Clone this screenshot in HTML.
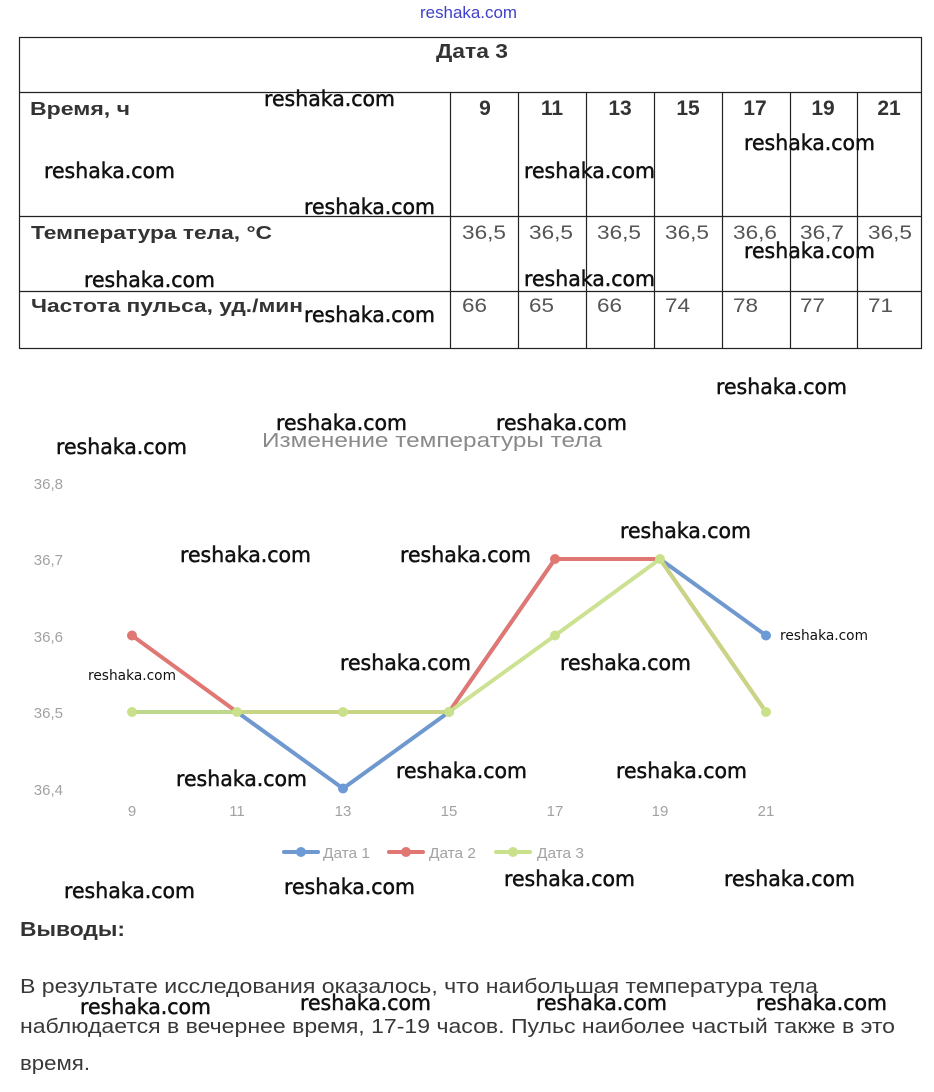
<!DOCTYPE html>
<html><head><meta charset="utf-8"><style>
html,body{margin:0;padding:0;background:#fff;}
svg{display:block;}
.wm{font-family:"DejaVu Sans","Liberation Sans",sans-serif;font-size:21px;fill:#111;stroke:#111;stroke-width:0.5;}
.wms{font-family:"DejaVu Sans","Liberation Sans",sans-serif;font-size:14px;fill:#111;}
.tb{font-family:"Liberation Sans",sans-serif;font-weight:bold;font-size:18px;fill:#333;}
.tv{font-family:"Liberation Sans",sans-serif;font-size:19px;fill:#555;}
.ax{font-family:"Liberation Sans",sans-serif;font-size:15px;fill:#a2a2a2;}
.pt{font-family:"Liberation Sans",sans-serif;font-size:20px;fill:#383838;}
</style></head><body>
<svg width="934" height="1092" viewBox="0 0 934 1092" xmlns="http://www.w3.org/2000/svg">
<rect width="934" height="1092" fill="#fff"/>
<text x="420" y="18" font-family="Liberation Sans, sans-serif" font-size="17" fill="#4040cc" textLength="97" lengthAdjust="spacingAndGlyphs">reshaka.com</text>

<g stroke="#222" stroke-width="1.2" fill="none">
<rect x="19.5" y="37.5" width="902" height="311"/>
<line x1="19" y1="92.5" x2="922" y2="92.5"/>
<line x1="19" y1="216.5" x2="922" y2="216.5"/>
<line x1="19" y1="291.5" x2="922" y2="291.5"/>
<line x1="450.5" y1="92" x2="450.5" y2="348"/>
<line x1="518.5" y1="92" x2="518.5" y2="348"/>
<line x1="586.5" y1="92" x2="586.5" y2="348"/>
<line x1="654.5" y1="92" x2="654.5" y2="348"/>
<line x1="722.5" y1="92" x2="722.5" y2="348"/>
<line x1="790.5" y1="92" x2="790.5" y2="348"/>
<line x1="857.5" y1="92" x2="857.5" y2="348"/>
</g>
<text class="tb" x="436" y="58" style="font-size:20px" textLength="72" lengthAdjust="spacingAndGlyphs">Дата 3</text>
<text class="tb" x="30" y="115" textLength="100" lengthAdjust="spacingAndGlyphs">Время, ч</text>
<g class="tb" text-anchor="middle" style="font-size:21px">
<text x="485" y="115">9</text>
<text x="552" y="115">11</text>
<text x="620" y="115">13</text>
<text x="688" y="115">15</text>
<text x="755" y="115">17</text>
<text x="823" y="115">19</text>
<text x="889" y="115">21</text>
</g>
<text class="tb" x="31" y="239" textLength="241" lengthAdjust="spacingAndGlyphs">Температура тела, °С</text>
<text class="tb" x="31" y="312" textLength="272" lengthAdjust="spacingAndGlyphs">Частота пульса, уд./мин</text>
<g class="tv">
<text x="462" y="239" textLength="44" lengthAdjust="spacingAndGlyphs">36,5</text>
<text x="529" y="239" textLength="44" lengthAdjust="spacingAndGlyphs">36,5</text>
<text x="597" y="239" textLength="44" lengthAdjust="spacingAndGlyphs">36,5</text>
<text x="665" y="239" textLength="44" lengthAdjust="spacingAndGlyphs">36,5</text>
<text x="733" y="239" textLength="44" lengthAdjust="spacingAndGlyphs">36,6</text>
<text x="800" y="239" textLength="44" lengthAdjust="spacingAndGlyphs">36,7</text>
<text x="868" y="239" textLength="44" lengthAdjust="spacingAndGlyphs">36,5</text>
<text x="462" y="312" textLength="25" lengthAdjust="spacingAndGlyphs">66</text>
<text x="529" y="312" textLength="25" lengthAdjust="spacingAndGlyphs">65</text>
<text x="597" y="312" textLength="25" lengthAdjust="spacingAndGlyphs">66</text>
<text x="665" y="312" textLength="25" lengthAdjust="spacingAndGlyphs">74</text>
<text x="733" y="312" textLength="25" lengthAdjust="spacingAndGlyphs">78</text>
<text x="800" y="312" textLength="25" lengthAdjust="spacingAndGlyphs">77</text>
<text x="868" y="312" textLength="25" lengthAdjust="spacingAndGlyphs">71</text>
</g>

<text x="262" y="447" font-family="Liberation Sans, sans-serif" font-size="20" fill="#8a8a8a" textLength="340" lengthAdjust="spacingAndGlyphs">Изменение температуры тела</text>
<g class="ax" text-anchor="end">
<text x="63" y="489">36,8</text>
<text x="63" y="565">36,7</text>
<text x="63" y="642">36,6</text>
<text x="63" y="718">36,5</text>
<text x="63" y="795">36,4</text>
</g>
<g class="ax" text-anchor="middle">
<text x="132" y="816">9</text>
<text x="237" y="816">11</text>
<text x="343" y="816">13</text>
<text x="449" y="816">15</text>
<text x="555" y="816">17</text>
<text x="660" y="816">19</text>
<text x="766" y="816">21</text>
</g>
<g fill="none" stroke-width="4" stroke-linejoin="round" stroke-linecap="round">
<polyline stroke="#6f98cf" points="132,712 237,712 343,788.5 449,712 555,559 660,559 766,635.5"/>
<polyline stroke="#e07773" points="132,635.5 237,712 343,712 449,712 555,559 660,559 766,712"/>
<polyline stroke="#c6df86" stroke-opacity="0.9" points="132,712 237,712 343,712 449,712 555,635.5 660,559 766,712"/>
</g>
<g fill="#6c9ad6">
<circle cx="343" cy="788.5" r="5"/><circle cx="766" cy="635.5" r="5"/><circle cx="449" cy="712" r="5"/>
</g>
<g fill="#e07773">
<circle cx="132" cy="635.5" r="5"/><circle cx="555" cy="559" r="5"/>
</g>
<g fill="#c9e18a">
<circle cx="132" cy="712" r="5"/><circle cx="237" cy="712" r="5"/><circle cx="343" cy="712" r="5"/><circle cx="449" cy="712" r="5"/><circle cx="555" cy="635.5" r="5"/><circle cx="660" cy="559" r="5"/><circle cx="766" cy="712" r="5"/>
</g>
<g stroke-width="4" stroke-linecap="round">
<line x1="284" y1="852" x2="318" y2="852" stroke="#6f98cf"/>
<line x1="389" y1="852" x2="423" y2="852" stroke="#e07773"/>
<line x1="496" y1="852" x2="530" y2="852" stroke="#c9e18a"/>
</g>
<circle cx="301" cy="852" r="5" fill="#6c9ad6"/>
<circle cx="406" cy="852" r="5" fill="#e07773"/>
<circle cx="513" cy="852" r="5" fill="#c9e18a"/>
<g class="ax">
<text x="323" y="858" textLength="47" lengthAdjust="spacingAndGlyphs">Дата 1</text>
<text x="429" y="858" textLength="47" lengthAdjust="spacingAndGlyphs">Дата 2</text>
<text x="537" y="858" textLength="47" lengthAdjust="spacingAndGlyphs">Дата 3</text>
</g>

<text x="20" y="936" font-family="Liberation Sans, sans-serif" font-weight="bold" font-size="20" fill="#333" textLength="105" lengthAdjust="spacingAndGlyphs">Выводы:</text>
<text class="pt" x="20" y="993" textLength="798" lengthAdjust="spacingAndGlyphs">В результате исследования оказалось, что наибольшая температура тела</text>
<text class="pt" x="20" y="1033" textLength="875" lengthAdjust="spacingAndGlyphs">наблюдается в вечернее время, 17-19 часов. Пульс наиболее частый также в это</text>
<text class="pt" x="20" y="1070" textLength="70" lengthAdjust="spacingAndGlyphs">время.</text>

<g class="wm">
<text x="264" y="106" textLength="131" lengthAdjust="spacingAndGlyphs">reshaka.com</text>
<text x="44" y="178" textLength="131" lengthAdjust="spacingAndGlyphs">reshaka.com</text>
<text x="304" y="214" textLength="131" lengthAdjust="spacingAndGlyphs">reshaka.com</text>
<text x="524" y="178" textLength="131" lengthAdjust="spacingAndGlyphs">reshaka.com</text>
<text x="744" y="150" textLength="131" lengthAdjust="spacingAndGlyphs">reshaka.com</text>
<text x="744" y="258" textLength="131" lengthAdjust="spacingAndGlyphs">reshaka.com</text>
<text x="84" y="287" textLength="131" lengthAdjust="spacingAndGlyphs">reshaka.com</text>
<text x="524" y="286" textLength="131" lengthAdjust="spacingAndGlyphs">reshaka.com</text>
<text x="304" y="322" textLength="131" lengthAdjust="spacingAndGlyphs">reshaka.com</text>
<text x="716" y="394" textLength="131" lengthAdjust="spacingAndGlyphs">reshaka.com</text>
<text x="276" y="430" textLength="131" lengthAdjust="spacingAndGlyphs">reshaka.com</text>
<text x="496" y="430" textLength="131" lengthAdjust="spacingAndGlyphs">reshaka.com</text>
<text x="56" y="454" textLength="131" lengthAdjust="spacingAndGlyphs">reshaka.com</text>
<text x="180" y="562" textLength="131" lengthAdjust="spacingAndGlyphs">reshaka.com</text>
<text x="400" y="562" textLength="131" lengthAdjust="spacingAndGlyphs">reshaka.com</text>
<text x="620" y="538" textLength="131" lengthAdjust="spacingAndGlyphs">reshaka.com</text>
<text x="340" y="670" textLength="131" lengthAdjust="spacingAndGlyphs">reshaka.com</text>
<text x="560" y="670" textLength="131" lengthAdjust="spacingAndGlyphs">reshaka.com</text>
<text x="176" y="786" textLength="131" lengthAdjust="spacingAndGlyphs">reshaka.com</text>
<text x="396" y="778" textLength="131" lengthAdjust="spacingAndGlyphs">reshaka.com</text>
<text x="616" y="778" textLength="131" lengthAdjust="spacingAndGlyphs">reshaka.com</text>
<text x="64" y="898" textLength="131" lengthAdjust="spacingAndGlyphs">reshaka.com</text>
<text x="284" y="894" textLength="131" lengthAdjust="spacingAndGlyphs">reshaka.com</text>
<text x="504" y="886" textLength="131" lengthAdjust="spacingAndGlyphs">reshaka.com</text>
<text x="724" y="886" textLength="131" lengthAdjust="spacingAndGlyphs">reshaka.com</text>
<text x="80" y="1014" textLength="131" lengthAdjust="spacingAndGlyphs">reshaka.com</text>
<text x="300" y="1010" textLength="131" lengthAdjust="spacingAndGlyphs">reshaka.com</text>
<text x="536" y="1010" textLength="131" lengthAdjust="spacingAndGlyphs">reshaka.com</text>
<text x="756" y="1010" textLength="131" lengthAdjust="spacingAndGlyphs">reshaka.com</text>
</g>
<g class="wms">
<text x="780" y="640" textLength="88" lengthAdjust="spacingAndGlyphs">reshaka.com</text>
<text x="88" y="680" textLength="88" lengthAdjust="spacingAndGlyphs">reshaka.com</text>
</g>
</svg>
</body></html>
